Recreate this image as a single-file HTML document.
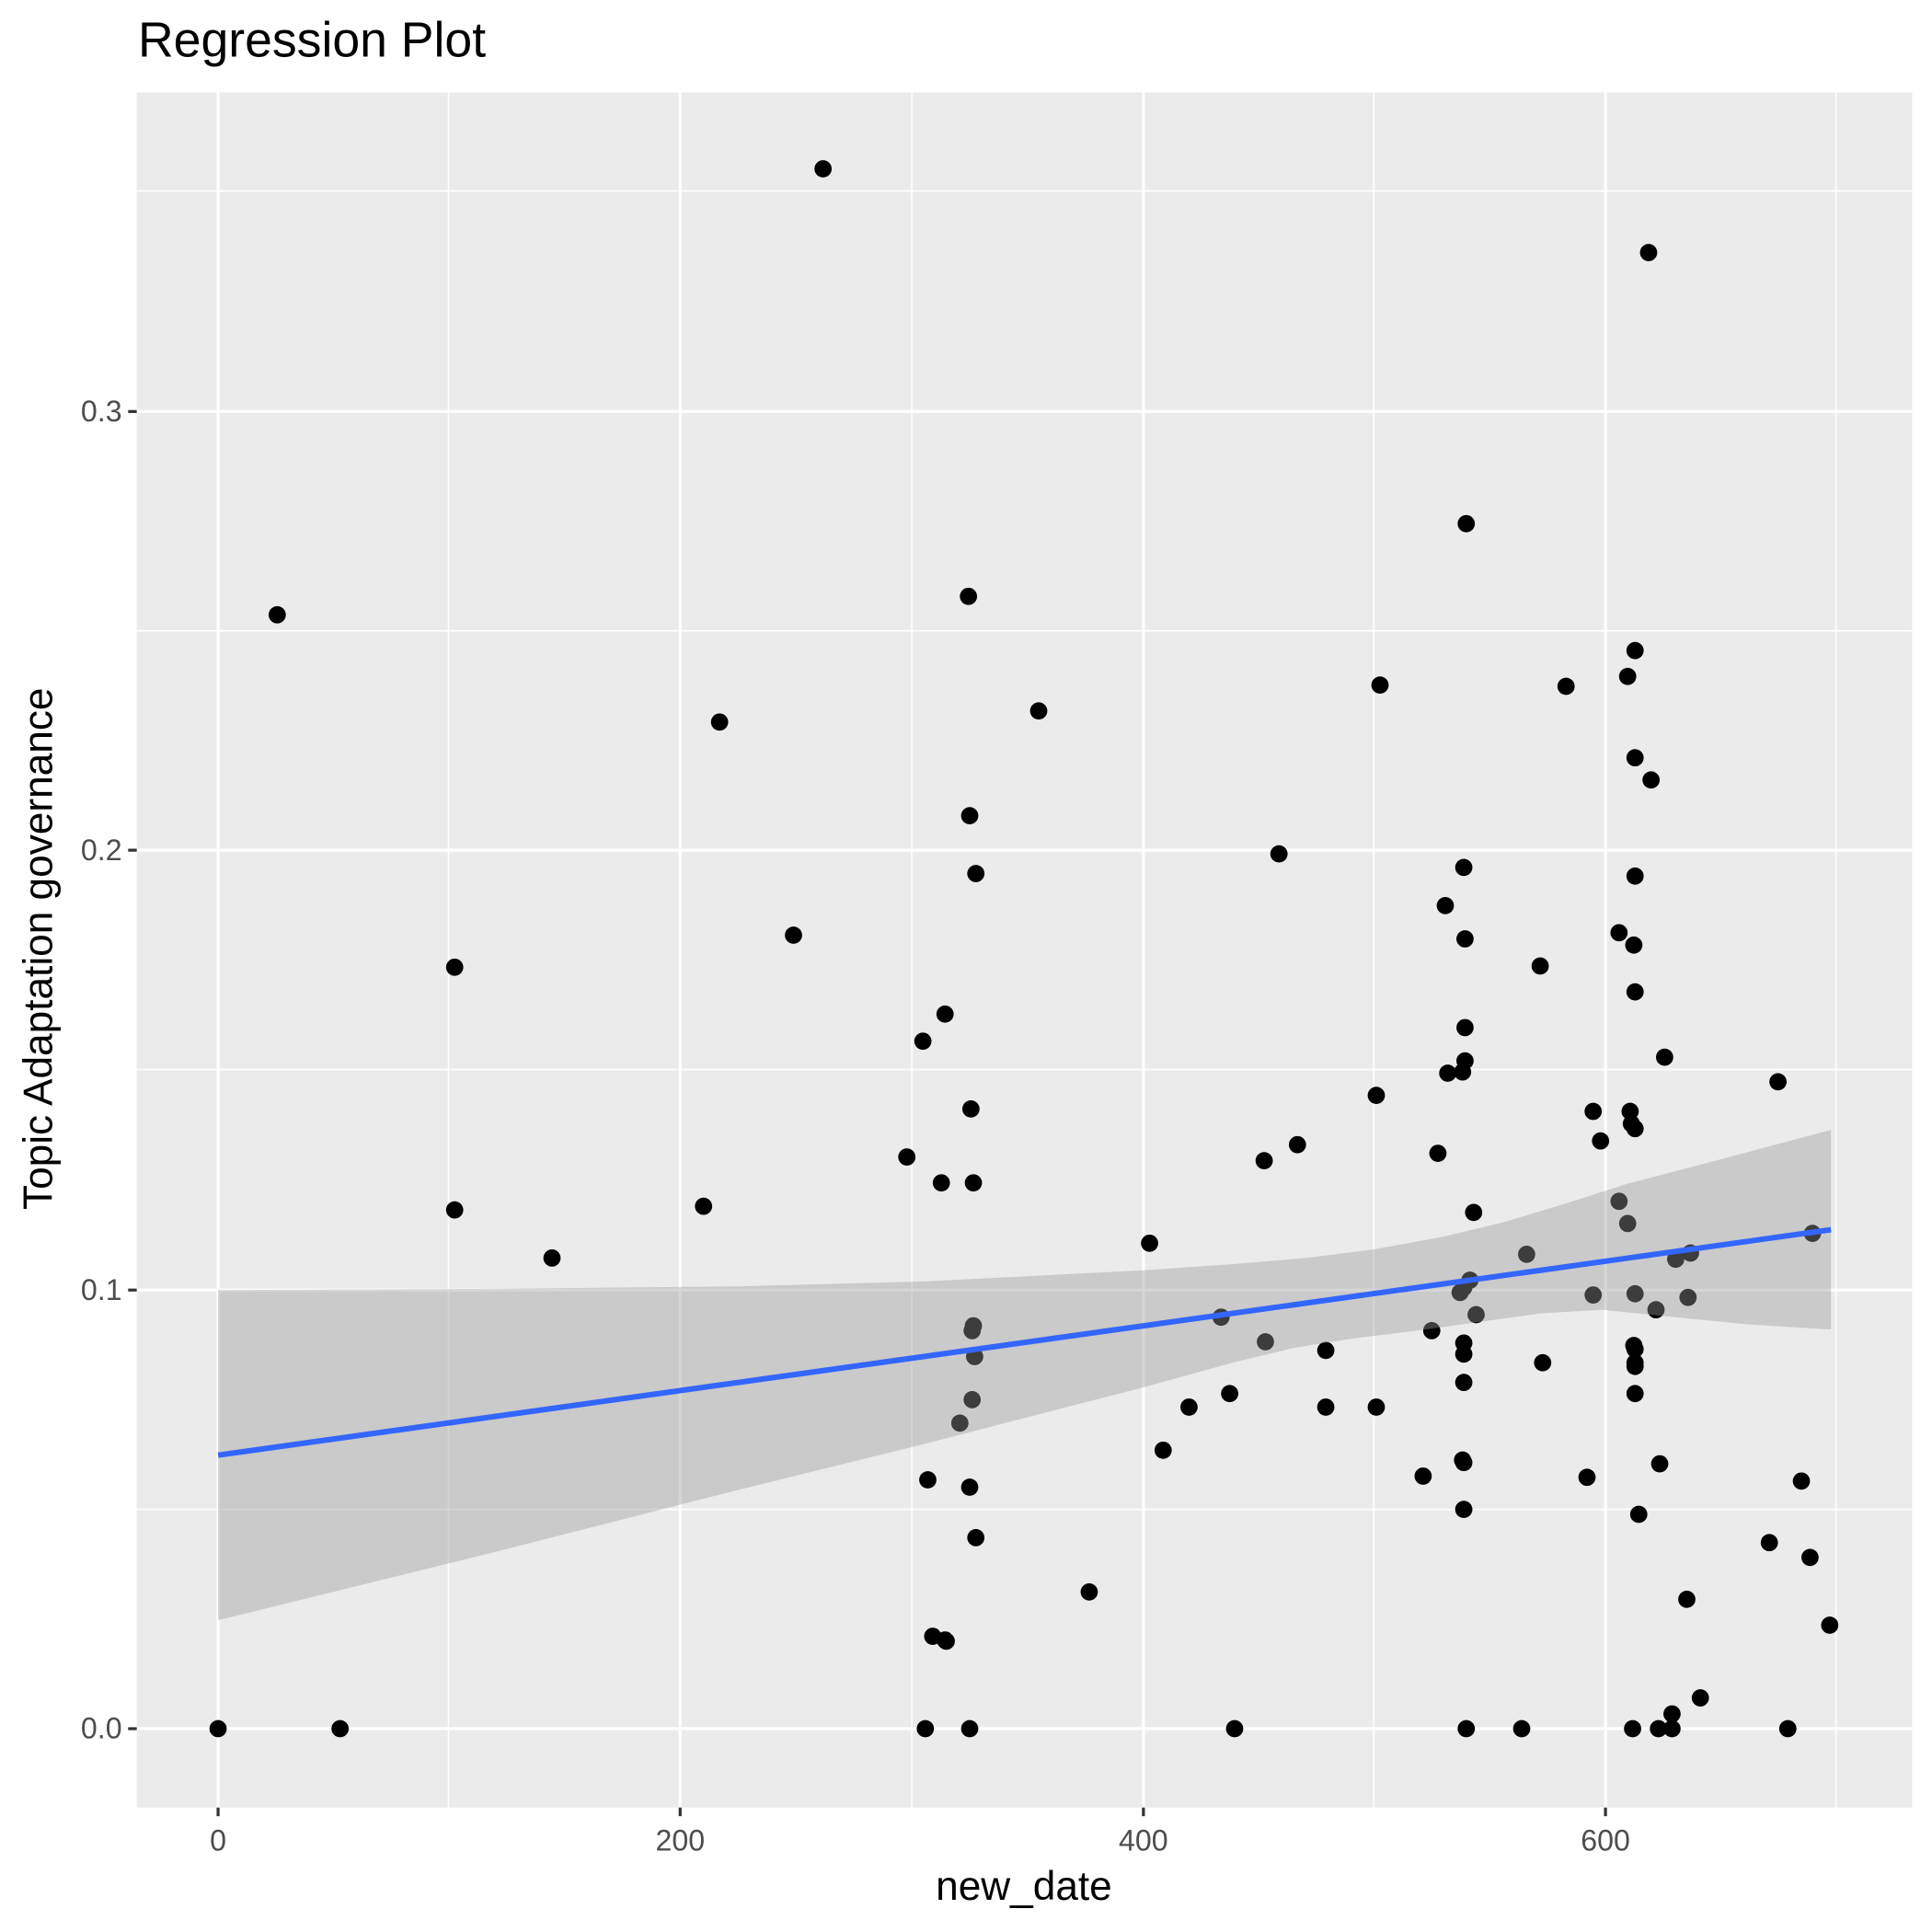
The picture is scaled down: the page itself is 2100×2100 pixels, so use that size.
<!DOCTYPE html>
<html><head><meta charset="utf-8"><style>html,body{margin:0;padding:0;background:#fff}svg{display:block}</style></head>
<body>
<svg width="2100" height="2100" viewBox="0 0 1568 1568" xmlns="http://www.w3.org/2000/svg" font-family="Liberation Sans, sans-serif">
<rect x="0" y="0" width="1568" height="1568" fill="#fff"/>
<rect x="111" y="75" width="1441" height="1392" fill="#EBEBEB"/>
<g stroke="#fff" stroke-width="1.2">
<line x1="364" y1="75" x2="364" y2="1467"/><line x1="740" y1="75" x2="740" y2="1467"/><line x1="1115" y1="75" x2="1115" y2="1467"/><line x1="1490" y1="75" x2="1490" y2="1467"/>
<line x1="111" y1="1225" x2="1552" y2="1225"/><line x1="111" y1="868" x2="1552" y2="868"/><line x1="111" y1="512" x2="1552" y2="512"/><line x1="111" y1="155" x2="1552" y2="155"/>
</g>
<g stroke="#fff" stroke-width="2.4">
<line x1="177" y1="75" x2="177" y2="1467"/><line x1="552" y1="75" x2="552" y2="1467"/><line x1="928" y1="75" x2="928" y2="1467"/><line x1="1303" y1="75" x2="1303" y2="1467"/>
<line x1="111" y1="1403" x2="1552" y2="1403"/><line x1="111" y1="1047" x2="1552" y2="1047"/><line x1="111" y1="690" x2="1552" y2="690"/><line x1="111" y1="334" x2="1552" y2="334"/>
</g>
<g fill="#000">
<circle cx="177" cy="1403" r="7"/><circle cx="276" cy="1403" r="7"/><circle cx="225" cy="499" r="7"/><circle cx="369" cy="785" r="7"/><circle cx="369" cy="982" r="7"/><circle cx="448" cy="1021" r="7"/><circle cx="571" cy="979" r="7"/><circle cx="584" cy="586" r="7"/><circle cx="644" cy="759" r="7"/><circle cx="668" cy="137" r="7"/><circle cx="736" cy="939" r="7"/><circle cx="749" cy="845" r="7"/><circle cx="751" cy="1403" r="7"/><circle cx="753" cy="1201" r="7"/><circle cx="757" cy="1328" r="7"/><circle cx="764" cy="960" r="7"/><circle cx="767" cy="823" r="7"/><circle cx="767" cy="1331" r="7"/><circle cx="768" cy="1332" r="7"/><circle cx="779" cy="1155" r="7"/><circle cx="786" cy="484" r="7"/><circle cx="787" cy="662" r="7"/><circle cx="787" cy="1207" r="7"/><circle cx="787" cy="1403" r="7"/><circle cx="788" cy="900" r="7"/><circle cx="789" cy="1136" r="7"/><circle cx="789" cy="1080" r="7"/><circle cx="790" cy="1076" r="7"/><circle cx="790" cy="960" r="7"/><circle cx="791" cy="1101" r="7"/><circle cx="792" cy="709" r="7"/><circle cx="792" cy="1248" r="7"/><circle cx="843" cy="577" r="7"/><circle cx="884" cy="1292" r="7"/><circle cx="933" cy="1009" r="7"/><circle cx="944" cy="1177" r="7"/><circle cx="965" cy="1142" r="7"/><circle cx="991" cy="1069" r="7"/><circle cx="998" cy="1131" r="7"/><circle cx="1002" cy="1403" r="7"/><circle cx="1026" cy="942" r="7"/><circle cx="1027" cy="1089" r="7"/><circle cx="1038" cy="693" r="7"/><circle cx="1053" cy="929" r="7"/><circle cx="1076" cy="1096" r="7"/><circle cx="1076" cy="1142" r="7"/><circle cx="1117" cy="889" r="7"/><circle cx="1117" cy="1142" r="7"/><circle cx="1120" cy="556" r="7"/><circle cx="1155" cy="1198" r="7"/><circle cx="1162" cy="1080" r="7"/><circle cx="1167" cy="936" r="7"/><circle cx="1173" cy="735" r="7"/><circle cx="1175" cy="871" r="7"/><circle cx="1185" cy="1049" r="7"/><circle cx="1187" cy="870" r="7"/><circle cx="1188" cy="1045" r="7"/><circle cx="1188" cy="1090" r="7"/><circle cx="1188" cy="1099" r="7"/><circle cx="1188" cy="1122" r="7"/><circle cx="1187" cy="1185" r="7"/><circle cx="1188" cy="1187" r="7"/><circle cx="1188" cy="1225" r="7"/><circle cx="1188" cy="704" r="7"/><circle cx="1189" cy="762" r="7"/><circle cx="1189" cy="834" r="7"/><circle cx="1189" cy="861" r="7"/><circle cx="1190" cy="425" r="7"/><circle cx="1190" cy="1403" r="7"/><circle cx="1193" cy="1039" r="7"/><circle cx="1196" cy="984" r="7"/><circle cx="1198" cy="1067" r="7"/><circle cx="1235" cy="1403" r="7"/><circle cx="1239" cy="1018" r="7"/><circle cx="1250" cy="784" r="7"/><circle cx="1252" cy="1106" r="7"/><circle cx="1271" cy="557" r="7"/><circle cx="1288" cy="1199" r="7"/><circle cx="1293" cy="902" r="7"/><circle cx="1293" cy="1051" r="7"/><circle cx="1299" cy="926" r="7"/><circle cx="1314" cy="757" r="7"/><circle cx="1314" cy="975" r="7"/><circle cx="1321" cy="549" r="7"/><circle cx="1321" cy="993" r="7"/><circle cx="1323" cy="902" r="7"/><circle cx="1324" cy="912" r="7"/><circle cx="1325" cy="1403" r="7"/><circle cx="1326" cy="767" r="7"/><circle cx="1326" cy="1092" r="7"/><circle cx="1327" cy="1095" r="7"/><circle cx="1327" cy="1106" r="7"/><circle cx="1327" cy="1109" r="7"/><circle cx="1327" cy="711" r="7"/><circle cx="1327" cy="528" r="7"/><circle cx="1327" cy="615" r="7"/><circle cx="1327" cy="805" r="7"/><circle cx="1327" cy="916" r="7"/><circle cx="1327" cy="1050" r="7"/><circle cx="1327" cy="1131" r="7"/><circle cx="1330" cy="1229" r="7"/><circle cx="1338" cy="205" r="7"/><circle cx="1340" cy="633" r="7"/><circle cx="1344" cy="1063" r="7"/><circle cx="1346" cy="1403" r="7"/><circle cx="1347" cy="1188" r="7"/><circle cx="1351" cy="858" r="7"/><circle cx="1357" cy="1391" r="7"/><circle cx="1357" cy="1403" r="7"/><circle cx="1360" cy="1022" r="7"/><circle cx="1369" cy="1298" r="7"/><circle cx="1370" cy="1053" r="7"/><circle cx="1372" cy="1017" r="7"/><circle cx="1380" cy="1378" r="7"/><circle cx="1436" cy="1252" r="7"/><circle cx="1443" cy="878" r="7"/><circle cx="1451" cy="1403" r="7"/><circle cx="1462" cy="1202" r="7"/><circle cx="1469" cy="1264" r="7"/><circle cx="1471" cy="1001" r="7"/><circle cx="1485" cy="1319" r="7"/>
</g>
<path d="M177,1047 L400,1046 L600,1044 L750,1040 L850,1035 L928,1031 L1000,1026 L1060,1021 L1115,1014 L1170,1004 L1220,992 L1270,977 L1320,961 L1400,940 L1486,917 L1486,1079 L1420,1075 L1360,1069 L1300,1063 L1250,1066 L1200,1073 L1150,1080 L1100,1086 L1050,1094 L1000,1106 L928,1126 L850,1146 L750,1172 L600,1209 L400,1260 L177,1315 Z" fill="#999999" fill-opacity="0.4"/>
<line x1="177" y1="1181" x2="1486" y2="998" stroke="#3366FF" stroke-width="4.5"/>
<g stroke="#333" stroke-width="2.4">
<line x1="177" y1="1467" x2="177" y2="1474"/><line x1="552" y1="1467" x2="552" y2="1474"/><line x1="928" y1="1467" x2="928" y2="1474"/><line x1="1303" y1="1467" x2="1303" y2="1474"/>
<line x1="104" y1="1403" x2="111" y2="1403"/><line x1="104" y1="1047" x2="111" y2="1047"/><line x1="104" y1="690" x2="111" y2="690"/><line x1="104" y1="334" x2="111" y2="334"/>
</g>
<g fill="#4D4D4D" font-size="24">
<g text-anchor="middle"><text x="177" y="1502">0</text><text x="552" y="1502">200</text><text x="928" y="1502">400</text><text x="1303" y="1502">600</text></g>
<g text-anchor="end"><text x="99" y="1411">0.0</text><text x="99" y="1055">0.1</text><text x="99" y="698">0.2</text><text x="99" y="342">0.3</text></g>
</g>
<text x="831" y="1542" text-anchor="middle" font-size="33" fill="#000">new_date</text>
<text transform="translate(42,770) rotate(-90)" text-anchor="middle" font-size="33" fill="#000">Topic Adaptation governance</text>
<text x="112" y="46" font-size="40" fill="#000">Regression Plot</text>
</svg>
</body></html>
